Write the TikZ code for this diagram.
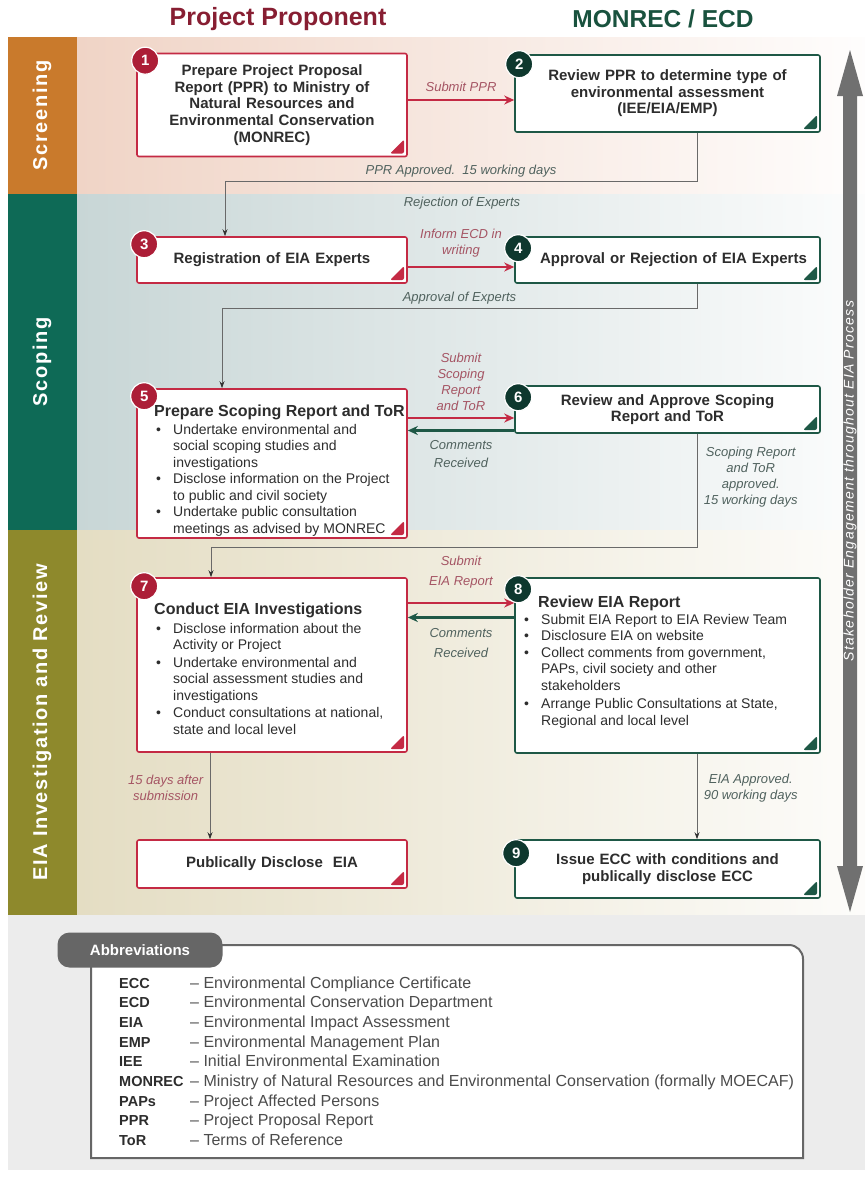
\documentclass[tikz,border=0pt]{standalone}
\usepackage{fontspec}
\setmainfont{Liberation Sans}
\usetikzlibrary{positioning,calc,arrows.meta}

\definecolor{ppred}{RGB}{196,42,68}
\definecolor{ppdark}{RGB}{172,30,55}
\definecolor{pptitle}{RGB}{135,30,50}
\definecolor{mgreen}{RGB}{30,88,70}
\definecolor{mdark}{RGB}{14,56,46}
\definecolor{mtitle}{RGB}{25,82,62}
\definecolor{scrcol}{RGB}{201,122,44}
\definecolor{scpcol}{RGB}{14,106,86}
\definecolor{eiacol}{RGB}{142,137,44}
\definecolor{scrbg}{RGB}{240,212,198}
\definecolor{scpbg}{RGB}{200,214,214}
\definecolor{eiabg}{RGB}{228,221,195}
\definecolor{redlab}{RGB}{165,85,100}
\definecolor{grnlab}{RGB}{80,98,94}
\definecolor{linegray}{RGB}{105,105,105}
\definecolor{txtgray}{RGB}{45,45,45}
\definecolor{stakegray}{RGB}{112,112,112}
\definecolor{abbrbg}{RGB}{236,236,236}

\newcommand{\bul}{\makebox[19pt][l]{\hspace{2pt}\textbullet}}
\newcommand{\ind}{\hspace*{19pt}}

\tikzset{
  red box/.style={draw=ppred, line width=1.6pt, fill=white, rounded corners=2pt,
    path picture={\fill[ppred] ([xshift=-3pt,yshift=3pt]path picture bounding box.south east)
      -- ++(-14pt,0pt) -- ++(14pt,14pt) -- cycle;}},
  green box/.style={red box, draw=mgreen,
    path picture={\fill[mgreen] ([xshift=-3pt,yshift=3pt]path picture bounding box.south east)
      -- ++(-14pt,0pt) -- ++(14pt,14pt) -- cycle;}},
  box text/.style={font=\bfseries\fontsize{15}{16.6}\selectfont, text=txtgray, align=center},
  list text/.style={anchor=north west, inner sep=0pt, align=left, text=txtgray,
    font=\fontsize{14}{16.5}\selectfont},
  red num/.style={circle, fill=ppdark, draw=white, line width=1.2pt, text=white,
    minimum size=27pt, inner sep=0pt, font=\bfseries\fontsize{15}{15}\selectfont},
  green num/.style={red num, fill=mdark},
  red arrow/.style={draw=ppred, line width=2.2pt, -{Stealth[length=10pt,width=9pt]}},
  green arrow/.style={draw=mgreen, line width=2.2pt, -{Stealth[length=10pt,width=9pt]}},
  gray line/.style={draw=linegray, line width=0.9pt, -{Stealth[length=7pt,width=5pt,color=black!80]}},
  red label/.style={font=\itshape\fontsize{13}{16}\selectfont, text=redlab, align=center},
  green label/.style={red label, text=grnlab},
  phase/.style={rotate=90, text=white,
    font=\bfseries\fontsize{20}{20}\selectfont\addfontfeature{LetterSpace=8}},
  abbr key/.style={anchor=base west, inner sep=0pt, text=txtgray, font=\bfseries\fontsize{14.5}{16}\selectfont},
  abbr desc/.style={anchor=base west, inner sep=0pt, text=txtgray!85, font=\fontsize{16}{16}\selectfont},
}

\begin{document}
\begin{tikzpicture}[x=1pt,y=-1pt]
\useasboundingbox (0,0) rectangle (865,1186);

% phase bands
\fill[scrcol] (8,37) rectangle (77,194);
\shade[left color=scrbg, right color=white!96!scrbg] (77,37) rectangle (865,194);
\fill[scpcol] (8,194) rectangle (77,530);
\shade[left color=scpbg, right color=white!94!scpbg] (77,194) rectangle (865,530);
\fill[eiacol] (8,530) rectangle (77,915);
\shade[left color=eiabg, right color=white!92!eiabg] (77,530) rectangle (865,915);
\fill[abbrbg] (8,915) rectangle (865,1170);

\node[phase] (ph1) at (42,115.5) {Screening};
\node[phase] (ph2) at (42,362) {Scoping};
\node[phase] (ph3) at (42,722.5) {EIA Investigation and Review};

% column titles
\node[font=\bfseries\fontsize{25}{25}\selectfont, text=pptitle] (pp) at (278,19) {Project Proponent};
\node[font=\bfseries\fontsize{24.5}{25}\selectfont, text=mtitle] (mon) at (663,19) {MONREC / ECD};

% stakeholder arrow
\fill[stakegray] (850,50) -- (863,96) -- (857,96) -- (857,866) -- (863,866) -- (850,912)
  -- (837,866) -- (843,866) -- (843,96) -- (837,96) -- cycle;
\node[rotate=90, text=white, font=\itshape\fontsize{14}{14}\selectfont\addfontfeature{LetterSpace=9}]
  (stk) at (850,481) {Stakeholder Engagement throughout EIA Process};

% boxes
\node[red box, box text, minimum width=270pt, minimum height=103pt, text width=250pt] (b1) at (272,105)
  {Prepare Project Proposal\\ Report (PPR) to Ministry of\\ Natural Resources and\\ Environmental Conservation\\ (MONREC)};
\node[green box, box text, minimum width=305pt, minimum height=77pt, text width=285pt] (b2) at (667.5,93.5)
  {Review PPR to determine type of\\ environmental assessment\\ (IEE/EIA/EMP)};
\node[red box, box text, minimum width=270pt, minimum height=46pt, text width=250pt] (b3) at (272,260)
  {Registration of EIA Experts};
\node[green box, box text, minimum width=305pt, minimum height=46pt, text width=295pt] (b4) at (667.5,260)
  {\hspace*{12pt}Approval or Rejection of EIA Experts};
\node[red box, minimum width=270pt, minimum height=149pt] (b5) at (272,463.5) {};
\node[green box, box text, minimum width=305pt, minimum height=47pt, text width=285pt] (b6) at (667.5,409.5)
  {Review and Approve Scoping\\ Report and ToR};
\node[red box, minimum width=270pt, minimum height=174pt] (b7) at (272,665) {};
\node[green box, minimum width=305pt, minimum height=175pt] (b8) at (667.5,665.5) {};
\node[red box, box text, minimum width=270pt, minimum height=48pt, text width=250pt] (bp) at (272,864)
  {Publically Disclose\ \ EIA};
\node[green box, box text, minimum width=305pt, minimum height=58pt, text width=285pt] (b9) at (667.5,869)
  {Issue ECC with conditions and\\ publically disclose ECC};

% lists
\node[list text] (t5) at (154,405) {{\bfseries\fontsize{16}{16}\selectfont Prepare Scoping Report and ToR}\\[1pt]
  \bul Undertake environmental and\\ \ind social scoping studies and\\ \ind investigations\\
  \bul Disclose information on the Project\\ \ind to public and civil society\\
  \bul Undertake public consultation\\ \ind meetings as advised by MONREC};
\node[list text] (t7) at (154,603) {{\bfseries\fontsize{16}{16}\selectfont Conduct EIA Investigations}\\[2pt]
  \bul Disclose information about the\\ \ind Activity or Project\\[1pt]
  \bul Undertake environmental and\\ \ind social assessment studies and\\ \ind investigations\\[1pt]
  \bul Conduct consultations at national,\\ \ind state and local level};
\node[list text] (t8) at (522,596) {\hspace*{16pt}{\bfseries\fontsize{16}{16}\selectfont Review EIA Report}\\[0pt]
  \bul Submit EIA Report to EIA Review Team\\
  \bul Disclosure EIA on website\\
  \bul Collect comments from government,\\ \ind PAPs, civil society and other\\ \ind stakeholders\\[2pt]
  \bul Arrange Public Consultations at State,\\ \ind Regional and local level};

% step numbers
\node[red num] (n1) at ([xshift=9pt,yshift=-8pt]b1.north west) {1};
\node[green num] (n2) at ([xshift=5pt,yshift=-10pt]b2.north west) {2};
\node[red num] (n3) at ([xshift=8pt,yshift=-8pt]b3.north west) {3};
\node[green num] (n4) at ([xshift=4pt,yshift=-12pt]b4.north west) {4};
\node[red num] (n5) at ([xshift=8pt,yshift=-8pt]b5.north west) {5};
\node[green num] (n6) at ([xshift=4pt,yshift=-12pt]b6.north west) {6};
\node[red num] (n7) at ([xshift=8pt,yshift=-9pt]b7.north west) {7};
\node[green num] (n8) at ([xshift=4pt,yshift=-12pt]b8.north west) {8};
\node[green num] (n9) at ([xshift=2pt,yshift=-14pt]b9.north west) {9};

% flows between the columns
\draw[red arrow] ([yshift=5pt]b1.east) -- node[above=4pt, red label] {Submit PPR} ([yshift=5pt]b1.east -| b2.west);
\draw[red arrow] ([yshift=-7pt]b3.east) -- node[above=5pt, red label] {Inform ECD in\\ writing} ([yshift=-7pt]b3.east -| b4.west);
\draw[red arrow] ([yshift=-8.5pt]b6.west -| b5.east) -- node[above=3pt, red label] {Submit\\ Scoping\\ Report\\ and ToR} ([yshift=-8.5pt]b6.west);
\draw[green arrow] ([yshift=-21pt]b6.west) -- node[below=5pt, green label, font=\itshape\fontsize{13}{18}\selectfont] {Comments\\ Received} ([yshift=-21pt]b6.west -| b5.east);
\draw[red arrow] ([yshift=62pt]b7.east) -- node[above=10pt, red label, font=\itshape\fontsize{13}{20}\selectfont] {Submit\\ EIA Report} ([yshift=62pt]b7.east -| b8.west);
\draw[green arrow] ([yshift=48pt]b8.west) -- node[below=6pt, green label, font=\itshape\fontsize{13}{20}\selectfont] {Comments\\ Received} ([yshift=48pt]b8.west -| b7.east);

% approvals back to the proponent
\draw[gray line] ([xshift=29.5pt]b2.south) -- ++(0,49) -| node[pos=0.25, above=1pt, green label] {PPR Approved.\ \ 15 working days} ([xshift=-47pt]b3.north);
\node[green label] (rej) at (462,203) {Rejection of Experts};
\draw[gray line] ([xshift=29.5pt]b4.south) -- ++(0,25) -| node[pos=0.25, above=1pt, green label] {Approval of Experts} ([xshift=-50pt]b5.north);
\draw[gray line] ([xshift=29.5pt]b6.south) -- node[pos=0.38, right=3pt, green label] {Scoping Report\\ and ToR\\ approved.\\ 15 working days} ++(0,114) -| ([xshift=-61pt]b7.north);
\draw[gray line] ([xshift=-62pt]b7.south) -- node[pos=0.4, left=3pt, red label] {15 days after\\ submission} ([xshift=-62pt]bp.north);
\draw[gray line] ([xshift=29.5pt]b8.south) -- node[pos=0.4, right=3pt, green label] {EIA Approved.\\ 90 working days} ([xshift=29.5pt]b9.north);

% abbreviations
\draw[line width=2pt, draw=black!60, fill=white] (91,1158) -- (91,945) -- (789,945) arc (90:0:14pt) -- (803,1158) -- cycle;
\node[fill=black!60, rounded corners=12pt, minimum width=165pt, minimum height=35pt, text=white,
  font=\bfseries\fontsize{15}{15}\selectfont] (abtab) at (140,950) {Abbreviations};
\foreach \ab/\desc [count=\i from 0] in {ECC/Environmental Compliance Certificate,
  ECD/Environmental Conservation Department, EIA/Environmental Impact Assessment,
  EMP/Environmental Management Plan, IEE/Initial Environmental Examination,
  MONREC/Ministry of Natural Resources and Environmental Conservation (formally MOECAF),
  PAPs/Project Affected Persons, PPR/Project Proposal Report, ToR/Terms of Reference}
{
  \node[abbr key] (k\i) at (119,{988+19.7*\i}) {\ab};
  \node[abbr desc] (d\i) at (190,{988+19.7*\i}) {-- \desc};
}
\end{tikzpicture}
\end{document}
